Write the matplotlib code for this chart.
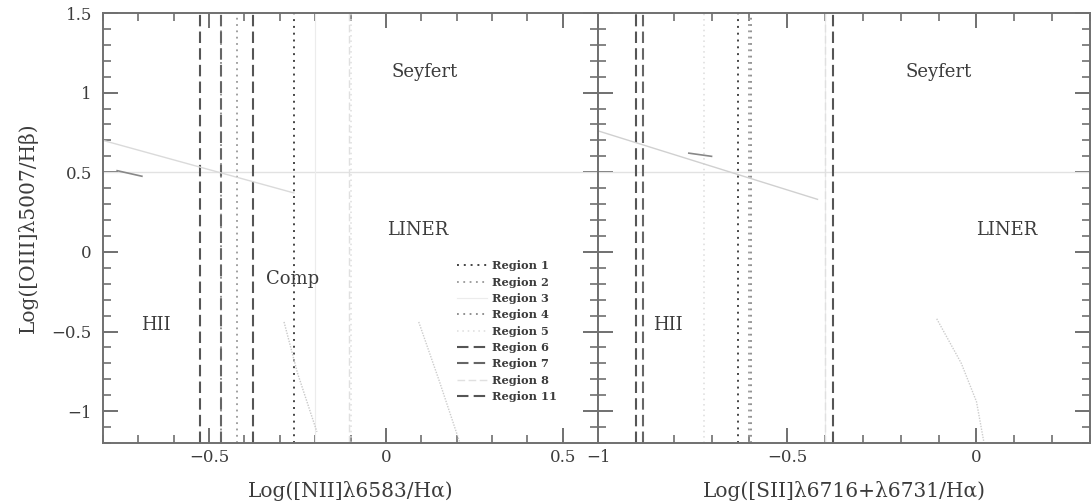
import numpy as np
import matplotlib
matplotlib.use("Agg")
import matplotlib.pyplot as plt
from matplotlib.ticker import MultipleLocator, FuncFormatter

plt.rcParams['font.family'] = ['DejaVu Serif']
plt.rcParams['mathtext.fontset'] = 'dejavuserif'

# region boundaries (log ratios)
regions = ['Region 1', 'Region 2', 'Region 3', 'Region 4', 'Region 5',
           'Region 6', 'Region 7', 'Region 8', 'Region 11']
nii_cut = [-0.26, -0.42, -0.20, -0.467, -0.10, -0.525, -0.467, -0.105, -0.376]
sii_cut = [-0.63, -0.60, -0.40, -0.595, -0.72, -0.90, -0.88, -0.40, -0.38]

# line style per region (grey scan look)
dot = (0, (1, 2.5))
dash = (0, (5.5, 2.5))
styles = [('#444444', dot, 1.4), ('#999999', dot, 1.3), ('#ececec', '-', 0.8),
          ('#888888', dot, 1.3), ('#dcdcdc', dot, 1.1), ('#555555', dash, 1.5),
          ('#666666', dash, 1.5), ('#e0e0e0', dash, 1.0), ('#555555', dash, 1.5)]

# faint diagnostic curves
nii_top_x, nii_top_y = [-0.80, -0.26], [0.70, 0.37]
nii_seg_x, nii_seg_y = [-0.76, -0.69], [0.51, 0.475]
nii_c1_x, nii_c1_y = [-0.288, -0.25, -0.195], [-0.44, -0.76, -1.13]
nii_c2_x, nii_c2_y = [0.093, 0.151, 0.208], [-0.44, -0.81, -1.19]
sii_top_x, sii_top_y = [-1.0, -0.42], [0.76, 0.33]
sii_seg_x, sii_seg_y = [-0.76, -0.70], [0.62, 0.60]
sii_c_x, sii_c_y = [-0.105, -0.04, 0.0, 0.02], [-0.42, -0.70, -0.94, -1.2]
split_y = 0.5

nii_labels = [('Seyfert', 0.11, 1.13), ('LINER', 0.09, 0.14),
              ('Comp', -0.265, -0.17), ('HII', -0.65, -0.46)]
sii_labels = [('Seyfert', -0.10, 1.13), ('LINER', 0.08, 0.14),
              ('HII', -0.815, -0.46)]

ink = '#3c3c3c'
frame = '#707070'

fig = plt.figure(figsize=(10.91, 5.04), dpi=100)
bot, hgt = 1 - 443 / 504, 430 / 504
ax1 = fig.add_axes([103 / 1091, bot, 495 / 1091, hgt])
ax2 = fig.add_axes([598 / 1091, bot, 492 / 1091, hgt])

fmt = FuncFormatter(lambda v, p: ('%g' % round(v, 3)).replace('-', '\u2212'))

for ax in (ax1, ax2):
    ax.set_ylim(-1.2, 1.5)
    for s in ax.spines.values():
        s.set_color(frame)
        s.set_linewidth(1.4)
    ax.xaxis.set_major_locator(MultipleLocator(0.5))
    ax.xaxis.set_minor_locator(MultipleLocator(0.1))
    ax.yaxis.set_major_locator(MultipleLocator(0.5))
    ax.yaxis.set_minor_locator(MultipleLocator(0.1))
    ax.xaxis.set_major_formatter(fmt)
    ax.yaxis.set_major_formatter(fmt)
    ax.tick_params(which='both', direction='in', top=True, right=True,
                   color=frame, labelcolor=ink, labelsize=12)
    ax.tick_params(which='major', length=11, width=1.4)
    ax.tick_params(which='minor', length=6, width=1.2)
    ax.tick_params(axis='x', pad=4)
    ax.tick_params(axis='y', pad=8)
    ax.axhline(split_y, color='#e2e2e2', lw=1.0)

ax1.set_xlim(-0.8, 0.6)
ax2.set_xlim(-1.0, 0.3)
ax2.tick_params(axis='y', labelleft=False)

for lab, xn, xs, (c, ls, lw) in zip(regions, nii_cut, sii_cut, styles):
    ax1.axvline(xn, color=c, ls=ls, lw=lw, label=lab)
    ax2.axvline(xs, color=c, ls=ls, lw=lw)

ax1.plot(nii_top_x, nii_top_y, color='#dadada', lw=1.0)
ax1.plot(nii_seg_x, nii_seg_y, color='#888888', lw=1.2)
ax1.plot(nii_c1_x, nii_c1_y, color='#c8c8c8', lw=1.0, ls=(0, (1, 1)))
ax1.plot(nii_c2_x, nii_c2_y, color='#cccccc', lw=1.0, ls=(0, (1, 1)))
ax2.plot(sii_top_x, sii_top_y, color='#d0d0d0', lw=1.0)
ax2.plot(sii_seg_x, sii_seg_y, color='#888888', lw=1.2)
ax2.plot(sii_c_x, sii_c_y, color='#cccccc', lw=1.0, ls=(0, (1, 1)))

for ax, labs in ((ax1, nii_labels), (ax2, sii_labels)):
    for t, x, y in labs:
        ax.text(x, y, t, ha='center', va='center', fontsize=13, color=ink)

leg = ax1.legend(loc='upper left', bbox_to_anchor=(0.715, 0.425), frameon=False,
                 prop={'size': 8.2, 'weight': 'bold'}, handlelength=2.6,
                 handletextpad=0.45, labelspacing=0.47, borderpad=0,
                 borderaxespad=0)
for t in leg.get_texts():
    t.set_color(ink)

ax1.set_xlabel('Log([NII]\u03bb6583/H\u03b1)', fontsize=14.5, color=ink, labelpad=11)
ax2.set_xlabel('Log([SII]\u03bb6716+\u03bb6731/H\u03b1)', fontsize=14.5, color=ink, labelpad=11)
ax1.set_ylabel('Log([OIII]\u03bb5007/H\u03b2)', fontsize=14.5, color=ink, labelpad=10)

fig.savefig('out.png', dpi=100)
